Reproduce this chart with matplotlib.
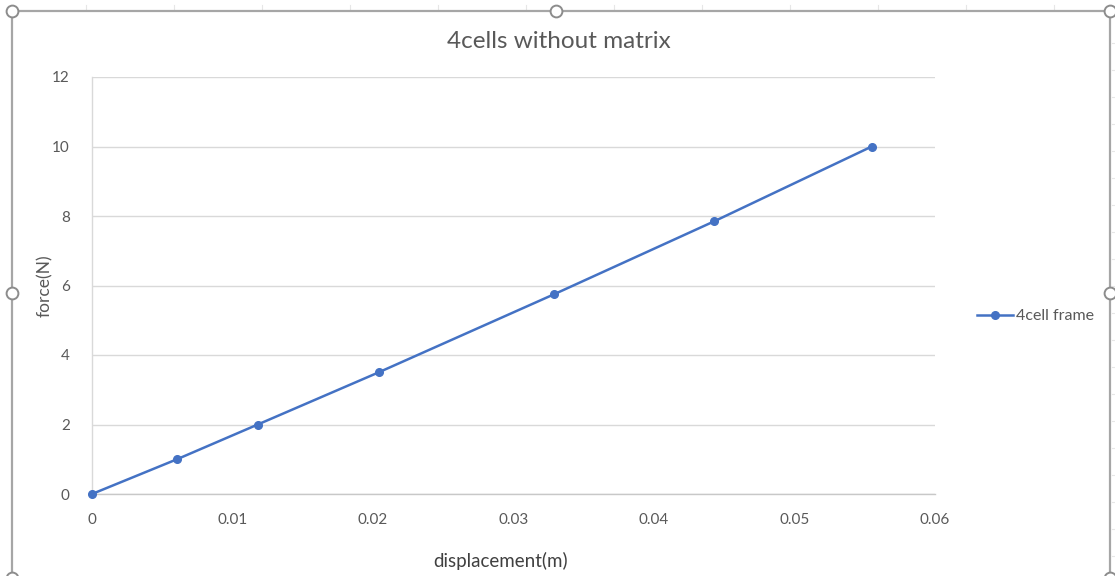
import matplotlib
matplotlib.use("Agg")
import matplotlib.pyplot as plt
from matplotlib.lines import Line2D

# Measured load-displacement data for the 4-cell frame
displacement = [0.0, 0.00605, 0.0118, 0.0204, 0.0329, 0.0443, 0.0555]
force = [0.0, 1.0, 2.0, 3.5, 5.75, 7.85, 10.0]

x_ticks = [0, 0.01, 0.02, 0.03, 0.04, 0.05, 0.06]
x_tick_labels = ["0", "0.01", "0.02", "0.03", "0.04", "0.05", "0.06"]
y_ticks = [0, 2, 4, 6, 8, 10, 12]

title = "4cells without matrix"
series_name = "4cell frame"
x_label = "displacement(m)"
y_label = "force(N)"

W, H = 1115, 576
plt.rcParams["font.family"] = ["Lato", "DejaVu Sans"]
TEXT = "#595959"
BLUE = "#4472C4"
GRID = "#d9d9d9"

fig = plt.figure(figsize=(W / 100, H / 100), dpi=100)
fig.patch.set_facecolor("white")

# Plot area
ax = fig.add_axes([92 / W, 1 - 494 / H, (935 - 92) / W, (494 - 77) / H])
ax.plot(displacement, force, color=BLUE, lw=1.8, marker="o", ms=5.5,
        mfc=BLUE, mec=BLUE, zorder=3, clip_on=False, label=series_name)
ax.set_xlim(0, 0.06)
ax.set_ylim(0, 12)
ax.set_xticks(x_ticks)
ax.set_xticklabels(x_tick_labels)
ax.set_yticks(y_ticks)
ax.grid(axis="y", color=GRID, lw=1.0)
ax.set_axisbelow(True)
for side in ("top", "right"):
    ax.spines[side].set_visible(False)
ax.spines["left"].set_color(GRID)
ax.spines["bottom"].set_color("#c8c8c8")
ax.spines["left"].set_linewidth(1.0)
ax.spines["bottom"].set_linewidth(1.0)
ax.tick_params(length=0, labelsize=11, labelcolor=TEXT)
ax.tick_params(axis="x", pad=14)
ax.tick_params(axis="y", pad=16)

# Titles and axis labels
fig.text(559 / W, 1 - 41 / H, title, ha="center", va="center",
         fontsize=17.5, color=TEXT)
fig.text(501 / W, 1 - 561 / H, x_label, ha="center", va="center",
         fontsize=13.5, color="#404040")
fig.text(45 / W, 1 - 286 / H, y_label, ha="center", va="center",
         rotation=90, fontsize=12.5, color=TEXT)

# Legend
handle = Line2D([], [], color=BLUE, lw=1.8, marker="o", ms=5.5)
fig.legend([handle], [series_name], loc="center left",
           bbox_to_anchor=(977 / W, 1 - 316 / H), frameon=False,
           fontsize=11.5, labelcolor=TEXT, handlelength=2.25,
           handletextpad=0.2, borderaxespad=0, borderpad=0)

# Chart frame with selection handles and surrounding sheet grid
ov = fig.add_axes([0, 0, 1, 1], zorder=10)
ov.set_xlim(0, W)
ov.set_ylim(H, 0)
ov.axis("off")
ov.patch.set_alpha(0)
for gx in range(86, W, 88):
    ov.plot([gx, gx], [5, 10], color="#e6e6e6", lw=0.8)
for gy in range(43, H, 27):
    ov.plot([1112, W], [gy, gy], color="#e6e6e6", lw=0.8)
frame_x = [12, 1110, 1110, 12, 12]
frame_y = [11, 11, 590, 590, 11]
ov.plot(frame_x, frame_y, color="#a6a6a6", lw=1.6, clip_on=False)
hx = [12, 556, 1110, 12, 1110, 12, 1110]
hy = [11, 11, 11, 293, 293, 578, 578]
ov.plot(hx, hy, ls="none", marker="o", ms=8.5, mfc="white",
        mec="#8c8c8c", mew=1.4, clip_on=True)

fig.savefig("out.png", dpi=100, facecolor="white")
